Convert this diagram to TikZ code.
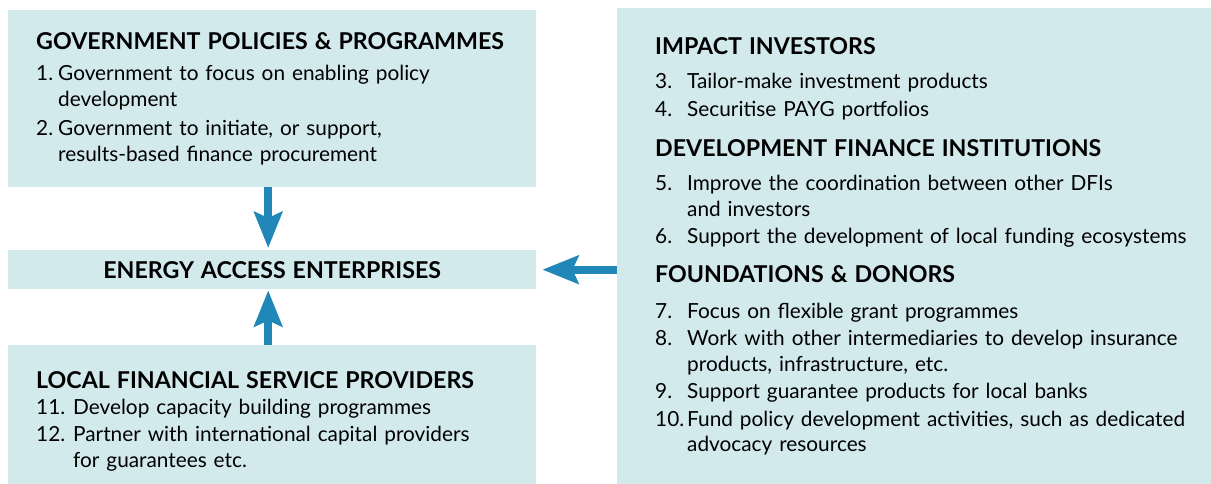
\documentclass[tikz,border=0pt]{standalone}
\usepackage{fontspec}
\setmainfont{Lato}
\usetikzlibrary{arrows.meta,positioning}

\definecolor{boxfill}{RGB}{211,234,237}
\definecolor{arrblue}{RGB}{33,135,185}

\newcommand\hd[2][8pt]{{\fontsize{23.2}{26}\selectfont\bfseries #2\par}\vspace{#1}}
\newcommand\itm[3][22pt]{{\hangindent=#1\hangafter=1\noindent\makebox[#1][l]{#2}#3\par}\vspace{2pt}}

\begin{document}
\begin{tikzpicture}[
  x=1pt, y=-1pt,
  font=\fontsize{20.8}{25.5}\selectfont,
  box/.style={fill=boxfill, anchor=north west, inner ysep=0pt, align=left},
  arr/.style={-{Stealth[length=36pt,width=28pt,inset=6pt]}, line width=8pt, draw=arrblue}
]
\path[use as bounding box, clip] (0,0) rectangle (1211,484);

\node[box, inner xsep=28pt, text width=472pt, minimum height=177pt] (gov) at (8,10) {%
  \hd[6pt]{GOVERNMENT POLICIES \& PROGRAMMES}
  \itm{1.}{Government to focus on enabling policy\newline development}\vspace{2pt}
  \itm{2.}{Government to initiate, or support,\newline results-based finance procurement}};
\node[box, inner xsep=28pt, text width=472pt, minimum height=39pt, align=center] (eae) at (8,250)
  {\fontsize{23.2}{26}\selectfont\bfseries ENERGY ACCESS ENTERPRISES};
\node[box, inner xsep=28pt, text width=472pt, minimum height=152pt] (lfsp) at (8,345) {%
  \hd[0pt]{LOCAL FINANCIAL SERVICE PROVIDERS}
  \itm[37pt]{11.}{Develop capacity building programmes}
  \itm[37pt]{12.}{Partner with international capital providers\newline for guarantees etc.}};

\node[box, inner xsep=38pt, text width=560pt, minimum height=476pt] (inv) at (617,8) {%
  \hd[9pt]{IMPACT INVESTORS}
  \itm[32pt]{3.}{Tailor-make investment products}
  \itm[32pt]{4.}{Securitise PAYG portfolios}
  \vspace{12pt}
  \hd[9pt]{DEVELOPMENT FINANCE INSTITUTIONS}
  \itm[32pt]{5.}{Improve the coordination between other DFIs\newline and investors}
  \itm[32pt]{6.}{Support the development of local funding ecosystems}
  \vspace{11pt}
  \hd[10pt]{FOUNDATIONS \& DONORS}
  \itm[32pt]{7.}{Focus on flexible grant programmes}
  \itm[32pt]{8.}{Work with other intermediaries to develop insurance\newline products, infrastructure, etc.}
  \itm[32pt]{9.}{Support guarantee products for local banks}
  \itm[32pt]{10.}{Fund policy development activities, such as dedicated\newline advocacy resources}};

\draw[arr] ([xshift=-4pt]gov.south) -- ([xshift=-4pt,yshift=2pt]eae.north);
\draw[arr] ([xshift=-4pt]lfsp.north) -- ([xshift=-4pt,yshift=-1pt]eae.south);
\draw[arr] (inv.west |- eae.east) -- ([xshift=6pt]eae.east);
\end{tikzpicture}
\end{document}
